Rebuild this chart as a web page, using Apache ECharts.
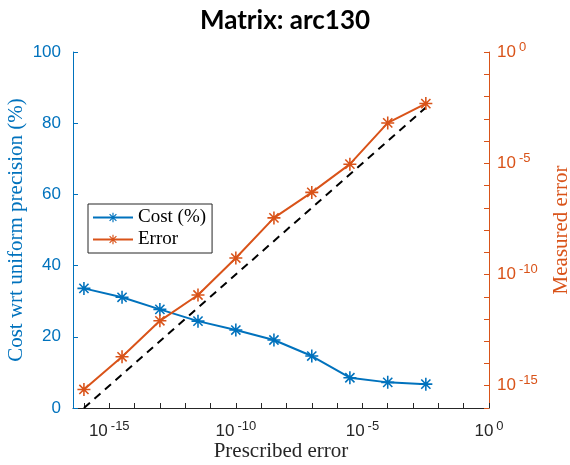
<!DOCTYPE html>
<html>
<head>
<meta charset="utf-8">
<script src="https://cdn.jsdelivr.net/npm/echarts@6/dist/echarts.min.js"></script>
<style>
  html, body { margin: 0; padding: 0; background: #fff; }
  #chart { width: 570px; height: 465px; }
</style>
</head>
<body>
<div id="chart"></div>
<script>
  // prescribed error (x), one point every 1.5 decades
  var prescribed = [1e-16, 3.2e-15, 1e-13, 3.2e-12, 1e-10, 3.2e-9, 1e-7, 3.2e-6, 1e-4, 3.2e-3];
  // cost wrt uniform precision (%)
  var cost = [33.6, 31.1, 27.7, 24.4, 21.9, 19.1, 14.6, 8.5, 7.2, 6.7];
  // measured error
  var measured = [6.8e-16, 2.0e-14, 8.3e-13, 1.2e-11, 5.5e-10, 3.5e-8, 4.9e-7, 9.1e-6, 6.5e-4, 4.8e-3];
  // reference line y = x
  var refLine = [[1e-16, 1e-16], [3.2e-3, 3.2e-3]];

  // x axis ticks (every decade) and labelled ticks
  var xTicks = [1e-16, 1e-15, 1e-14, 1e-13, 1e-12, 1e-11, 1e-10, 1e-9, 1e-8, 1e-7, 1e-6, 1e-5, 1e-4, 1e-3, 1e-2, 1e-1, 1];
  var xLabels = [1e-15, 1e-10, 1e-5, 1];

  var blue = '#0072BD';
  var orange = '#D95319';
  var dark = '#262626';

  // MATLAB style '*' marker
  var star = 'path://M8.8 0L11.2 0L11.2 20L8.8 20Z M0 8.8L20 8.8L20 11.2L0 11.2Z ' +
    'M3.78 2.08L17.92 16.22L16.22 17.92L2.08 3.78Z ' +
    'M17.92 3.78L3.78 17.92L2.08 16.22L16.22 2.08Z';

  function powLabel(v) {
    var e = Math.log10(v);
    var r = Math.round(e);
    if (Math.abs(e - r) > 0.01 || r % 5 !== 0) return '';
    return '{b|10}{s|' + r + '}';
  }
  var powRich = {
    b: { fontSize: 17, fontFamily: 'Liberation Sans' },
    s: { fontSize: 13, fontFamily: 'Liberation Sans', padding: [0, 0, 10, 3] }
  };

  var chart = echarts.init(document.getElementById('chart'));
  var option = {
    animation: false,
    title: {
      text: 'Matrix: arc130',
      left: 'center',
      top: 3,
      textStyle: { fontFamily: 'Lato', fontWeight: 'bold', fontSize: 26, color: '#000' }
    },
    legend: {
      orient: 'vertical',
      left: 88,
      top: 204,
      padding: [4, 6, 4, 4],
      itemGap: 3,
      itemWidth: 40,
      itemHeight: 12,
      borderColor: dark,
      borderWidth: 1,
      backgroundColor: '#fff',
      textStyle: { fontFamily: 'Liberation Serif', fontSize: 19, color: '#000' },
      data: ['Cost (%)', 'Error']
    },
    grid: { left: 73, right: 81, top: 52, bottom: 57, containLabel: false, outerBoundsMode: 'none' },
    xAxis: {
      type: 'log',
      min: 3.7e-17,
      max: 1,
      name: 'Prescribed error',
      nameLocation: 'middle',
      nameGap: 33,
      nameMoveOverlap: false,
      nameTextStyle: { fontFamily: 'Liberation Serif', fontSize: 21, color: dark },
      axisLine: { lineStyle: { color: dark, width: 1 } },
      axisTick: { inside: true, length: 5, customValues: xTicks, lineStyle: { color: dark } },
      axisLabel: { formatter: powLabel, rich: powRich, color: dark, margin: 12, customValues: xLabels },
      splitLine: { show: false }
    },
    yAxis: [{
      type: 'value',
      min: 0,
      max: 100,
      interval: 20,
      position: 'left',
      name: 'Cost wrt uniform precision (%)',
      nameLocation: 'middle',
      nameRotate: 90,
      nameGap: 46,
      nameMoveOverlap: false,
      nameTextStyle: { fontFamily: 'Liberation Serif', fontSize: 21, color: blue },
      axisLine: { show: true, lineStyle: { color: blue, width: 1 } },
      axisTick: { show: true, inside: true, length: 5, lineStyle: { color: blue } },
      axisLabel: { color: blue, fontFamily: 'Liberation Sans', fontSize: 17, margin: 12 },
      splitLine: { show: false }
    }, {
      type: 'log',
      min: 1e-16,
      max: 1,
      interval: 1,
      position: 'right',
      name: 'Measured error',
      nameLocation: 'middle',
      nameRotate: 90,
      nameGap: 62,
      nameMoveOverlap: false,
      nameTextStyle: { fontFamily: 'Liberation Serif', fontSize: 21, color: orange },
      axisLine: { show: true, lineStyle: { color: orange, width: 1 } },
      axisTick: { show: true, inside: true, length: 5, lineStyle: { color: orange } },
      axisLabel: { formatter: powLabel, rich: powRich, color: orange, margin: 8 },
      splitLine: { show: false }
    }],
    series: [{
      name: 'Cost (%)',
      type: 'line',
      yAxisIndex: 0,
      data: prescribed.map(function (x, i) { return [x, cost[i]]; }),
      symbol: star,
      symbolSize: 13,
      showAllSymbol: true,
      lineStyle: { color: blue, width: 2 },
      itemStyle: { color: blue, borderWidth: 0 },
      z: 3
    }, {
      name: 'Error',
      type: 'line',
      yAxisIndex: 1,
      data: prescribed.map(function (x, i) { return [x, measured[i]]; }),
      symbol: star,
      symbolSize: 13,
      showAllSymbol: true,
      lineStyle: { color: orange, width: 2 },
      itemStyle: { color: orange, borderWidth: 0 },
      z: 3
    }, {
      name: 'ref',
      type: 'line',
      yAxisIndex: 1,
      data: refLine,
      symbol: 'none',
      lineStyle: { color: '#000', width: 2, type: [8, 6] },
      z: 2
    }]
  };
  chart.setOption(option);
</script>
</body>
</html>
